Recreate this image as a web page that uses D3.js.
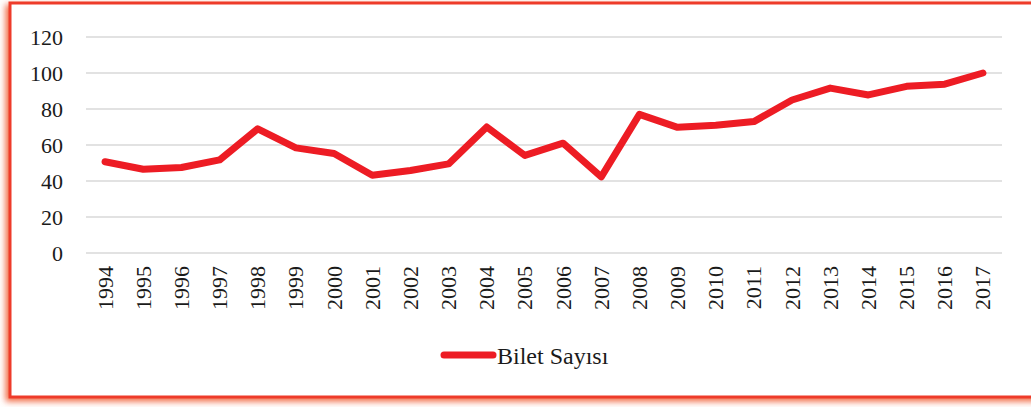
<!DOCTYPE html>
<html>
<head>
<meta charset="utf-8">
<script src="https://cdn.jsdelivr.net/npm/d3@7"></script>
<style>
  body { margin: 0; background: #fff; }
  svg { display: block; }
</style>
</head>
<body>
<svg id="chart"></svg>
<script>
'use strict';

const years = ['1994', '1995', '1996', '1997', '1998', '1999', '2000', '2001', '2002', '2003', '2004', '2005',
    '2006', '2007', '2008', '2009', '2010', '2011', '2012', '2013', '2014', '2015', '2016', '2017'];
const tickets = [50.7, 46.5, 47.5, 51.7, 69, 58.4, 55.3, 43.2, 45.8, 49.5, 70, 54.2,
    61, 42.3, 77, 69.8, 71, 73, 85, 91.6, 87.8, 92.6, 93.8, 100];
const yTicks = [0, 20, 40, 60, 80, 100, 120];
const seriesName = 'Bilet Sayısı';

const width = 1031, height = 407;
const plot = { left: 86, right: 1002, top: 37, bottom: 253 };
const lineColor = '#ed1c24';

const svg = d3.select('#chart').attr('width', width).attr('height', height);

// frame with a soft red glow
const defs = svg.append('defs');
const glow = defs.append('filter').attr('id', 'glow')
    .attr('x', '-5%').attr('y', '-5%').attr('width', '110%').attr('height', '110%');
glow.append('feDropShadow')
    .attr('dx', -3).attr('dy', 3).attr('stdDeviation', 3)
    .attr('flood-color', '#f26a45').attr('flood-opacity', 1);

svg.append('rect')
    .attr('x', 10).attr('y', 3)
    .attr('width', 1040).attr('height', 394)
    .attr('fill', '#fff')
    .attr('stroke', '#ee3a2a').attr('stroke-width', 3)
    .attr('filter', 'url(#glow)');

const x = d3.scaleBand().domain(years).range([plot.left, plot.right]);
const y = d3.scaleLinear().domain([0, 120]).range([plot.bottom, plot.top]);

// gridlines
svg.append('g').selectAll('line')
    .data(yTicks)
    .join('line')
    .attr('x1', plot.left).attr('x2', plot.right)
    .attr('y1', d => y(d)).attr('y2', d => y(d))
    .attr('stroke', '#d9d9d9').attr('stroke-width', 1.5);

function labelStyle(sel) {
    sel.attr('font-family', null).attr('fill', null)
        .style('font-family', '"Liberation Serif"')
        .style('font-size', '22px')
        .style('fill', '#1a1a1a');
}

// y axis labels
const yAxis = d3.axisLeft(y).tickValues(yTicks).tickSize(0).tickPadding(0);
svg.append('g')
    .attr('transform', 'translate(63,0)')
    .call(yAxis)
    .attr('font-family', null).attr('font-size', null)
    .call(g => g.select('.domain').remove())
    .call(g => g.selectAll('text').attr('dy', '0.34em').call(labelStyle));

// x axis labels, rotated
const xAxis = d3.axisBottom(x).tickSize(0).tickPadding(0);
svg.append('g')
    .attr('transform', 'translate(0,' + (plot.bottom + 13) + ')')
    .call(xAxis)
    .attr('font-family', null).attr('font-size', null)
    .call(g => g.select('.domain').remove())
    .call(g => g.selectAll('text')
        .attr('text-anchor', 'end')
        .attr('transform', 'rotate(-90)')
        .attr('x', 0).attr('y', 0).attr('dy', '0.34em')
        .call(labelStyle));

// the line
const line = d3.line()
    .x((d, i) => x(years[i]) + x.bandwidth() / 2)
    .y(d => y(d));

svg.append('path')
    .datum(tickets)
    .attr('d', line)
    .attr('fill', 'none')
    .attr('stroke', lineColor)
    .attr('stroke-width', 7)
    .attr('stroke-linejoin', 'round')
    .attr('stroke-linecap', 'round');

// legend
const lg = svg.append('g').attr('transform', 'translate(442,355)');
lg.append('line')
    .attr('x1', 2).attr('x2', 51).attr('y1', 0).attr('y2', 0)
    .attr('stroke', lineColor).attr('stroke-width', 7).attr('stroke-linecap', 'round');
lg.append('text')
    .attr('x', 55).attr('y', 9)
    .text(seriesName)
    .call(labelStyle)
    .style('font-size', '24px');
</script>
</body>
</html>
